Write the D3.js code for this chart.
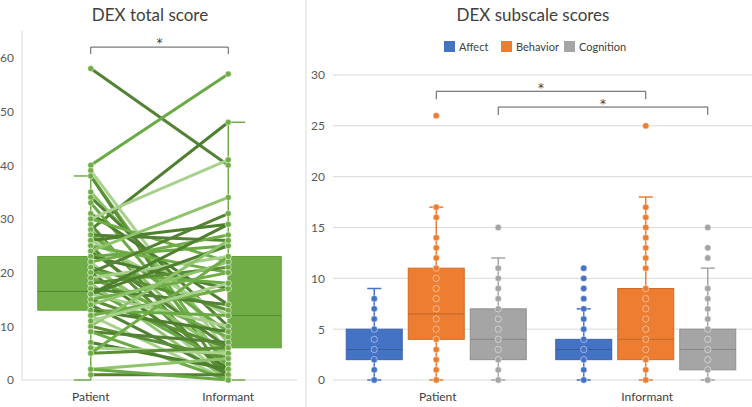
<!DOCTYPE html>
<html><head><meta charset="utf-8">
<script src="https://cdn.jsdelivr.net/npm/d3@7"></script>
<style>body{margin:0;background:#fff;} svg{display:block;font-family:Lato,"Open Sans",sans-serif;}</style>
</head><body><svg id="c" width="752" height="407"></svg>
<script>
// ---------- DATA ----------
const totalTitle = "DEX total score";
const totalCategories = ["Patient", "Informant"];
const totalTicks = [0, 10, 20, 30, 40, 50, 60];
const patientTotal = [58,40,28,39,38,38,35,34,33,31,30,30,29,28,27,27,26,26,25,25,24,24,23,23,22,22,21,21,20,20,20,19,19,18,18,17,17,16,16,15,15,14,14,13,13,12,12,10,10,9,9,7,6,5,5,2,1,2,16,11];
const informantTotal = [40,57,48,5,2,0,7,10,3,14,41,22,0,4,26,9,29,12,20,1,34,6,25,17,0,27,13,5,31,18,2,23,8,21,0,14,3,25,10,20,6,22,1,12,9,0,17,4,26,7,0,2,5,23,6,4,1,0,29,18];
const totalQ1 = [13, 6];
const totalMedian = [16.5, 12];
const totalQ3 = [23, 23];
const totalMin = [0, 0];
const totalMax = [38, 48];
const totalSignificance = ["*"];

const subTitle = "DEX subscale scores";
const subCategories = ["Patient", "Informant"];
const subSeries = ["Affect", "Behavior", "Cognition"];
const subTicks = [0, 5, 10, 15, 20, 25, 30];
const affectQ1 = [2, 2], affectMedian = [3, 3], affectQ3 = [5, 4], affectMin = [0, 0], affectMax = [9, 7];
const behaviorQ1 = [4, 2], behaviorMedian = [6.5, 4], behaviorQ3 = [11, 9], behaviorMin = [0, 0], behaviorMax = [17, 18];
const cognitionQ1 = [2, 1], cognitionMedian = [4, 3], cognitionQ3 = [7, 5], cognitionMin = [0, 0], cognitionMax = [12, 11];
const affectPatientPoints = [0,1,2,3,4,5,6,7,8];
const affectInformantPoints = [0,1,2,3,4,5,6,7,8,9,10,11];
const behaviorPatientPoints = [0,1,2,3,4,5,6,7,8,9,10,11,12,13,14,16,17,26];
const behaviorInformantPoints = [0,1,2,3,4,5,6,7,8,9,11,12,13,14,15,16,17,25];
const cognitionPatientPoints = [0,1,2,3,4,5,6,7,8,9,10,11,15];
const cognitionInformantPoints = [0,1,2,3,4,5,6,7,8,9,12,13,15];
const subSignificance = ["*", "*"];

// ---------- STYLE ----------
const greens = ["#548235", "#6aaa44", "#4e7f2e", "#a9d18e", "#70ad47", "#5b8f36", "#8fc46c"];
const boxGreen = "#70ad47";
const seriesColors = {Affect: "#4472c4", Behavior: "#ed7d31", Cognition: "#a5a5a5"};
const gridColor = "#d9d9d9";
const textColor = "#595959";
const starFont = "DejaVu Sans";

const svg = d3.select("#c");

// ---------- LEFT PANEL ----------
const yL = d3.scaleLinear().domain([0, 65]).range([380, 31]);
const xL = d3.scaleBand().domain(totalCategories).range([22, 297]);
const cxL = c => xL(c) + xL.bandwidth() / 2;
const L = svg.append("g");

L.append("text").attr("x", 150).attr("y", 21).attr("text-anchor", "middle")
  .attr("font-size", 17).attr("fill", "#404040").text(totalTitle);

L.append("line").attr("x1", 22).attr("x2", 22).attr("y1", yL(65)).attr("y2", yL(0)).attr("stroke", gridColor);
L.append("line").attr("x1", 22).attr("x2", 297).attr("y1", yL(0)).attr("y2", yL(0)).attr("stroke", gridColor);

const axL = L.append("g").attr("transform", "translate(14,0)")
  .call(d3.axisLeft(yL).tickValues(totalTicks).tickSize(0).tickPadding(0));
axL.select(".domain").remove();
axL.selectAll("text").attr("font-size", 12).attr("fill", textColor).attr("font-family", "Lato");

const axLB = L.append("g").attr("transform", "translate(0,380)")
  .call(d3.axisBottom(xL).tickSize(0).tickPadding(12));
axLB.select(".domain").remove();
axLB.selectAll("text").attr("font-size", 12).attr("fill", "#404040").attr("font-family", "Lato");

// boxes
totalCategories.forEach((c, i) => {
  const cx = cxL(c), side = i === 0 ? -1 : 1, bw = 53;
  L.append("rect").attr("x", side < 0 ? cx - bw : cx).attr("width", bw)
    .attr("y", yL(totalQ3[i])).attr("height", yL(totalQ1[i]) - yL(totalQ3[i]))
    .attr("fill", boxGreen).attr("stroke", "#62a03c");
  L.append("line").attr("x1", cx).attr("x2", cx + side * bw)
    .attr("y1", yL(totalMedian[i])).attr("y2", yL(totalMedian[i])).attr("stroke", "#4f8a2c");
  L.append("line").attr("x1", cx).attr("x2", cx).attr("y1", yL(totalMin[i])).attr("y2", yL(totalMax[i]))
    .attr("stroke", boxGreen).attr("stroke-width", 1.5);
  [totalMin[i], totalMax[i]].forEach(v => L.append("line").attr("x1", cx).attr("x2", cx + side * 17)
    .attr("y1", yL(v)).attr("y2", yL(v)).attr("stroke", boxGreen).attr("stroke-width", 1.5));
});

// paired lines
const xP = cxL("Patient"), xI = cxL("Informant");
L.append("g").selectAll("line").data(patientTotal).join("line")
  .attr("x1", xP).attr("x2", xI)
  .attr("y1", d => yL(d)).attr("y2", (d, i) => yL(informantTotal[i]))
  .attr("stroke", (d, i) => greens[i % greens.length]).attr("stroke-width", 3);

// dots
[[xP, patientTotal], [xI, informantTotal]].forEach(([x, vals]) => {
  L.append("g").selectAll("circle").data(vals).join("circle")
    .attr("cx", x).attr("cy", d => yL(d)).attr("r", 3)
    .attr("fill", boxGreen).attr("stroke", "rgba(255,255,255,0.45)").attr("stroke-width", 1);
});

// significance bracket
L.append("path").attr("d", `M${xP},${yL(60.7)}V${yL(62)}H${xI}V${yL(60.7)}`)
  .attr("fill", "none").attr("stroke", "#595959").attr("stroke-width", 1);
L.append("text").attr("x", (xP + xI) / 2).attr("y", yL(62)).attr("text-anchor", "middle")
  .attr("font-size", 12).attr("font-family", starFont).attr("fill", "#404040").text(totalSignificance[0]);

// ---------- RIGHT PANEL ----------
svg.append("line").attr("x1", 306).attr("x2", 306).attr("y1", 0).attr("y2", 407).attr("stroke", gridColor);
const R = svg.append("g");
const yR = d3.scaleLinear().domain([0, 30]).range([380, 75]);
const xR = d3.scaleBand().domain(subCategories).range([333, 752]);
const xS = d3.scaleBand().domain(subSeries).range([-1.5, xR.bandwidth() - 1.5]).paddingInner(0.097).paddingOuter(0.238);

R.append("text").attr("x", 533).attr("y", 21).attr("text-anchor", "middle")
  .attr("font-size", 17).attr("fill", "#404040").text(subTitle);

R.append("g").selectAll("line").data(subTicks).join("line")
  .attr("x1", 333).attr("x2", 752).attr("y1", d => yR(d)).attr("y2", d => yR(d)).attr("stroke", gridColor);

const axR = R.append("g").attr("transform", "translate(325,0)")
  .call(d3.axisLeft(yR).tickValues(subTicks).tickSize(0).tickPadding(0));
axR.select(".domain").remove();
axR.selectAll("text").attr("font-size", 12).attr("fill", textColor).attr("font-family", "Lato");

const axRB = R.append("g").attr("transform", "translate(0,380)")
  .call(d3.axisBottom(xR).tickSize(0).tickPadding(12));
axRB.select(".domain").remove();
axRB.selectAll("text").attr("font-size", 12).attr("fill", "#404040").attr("font-family", "Lato");

const stats = {
  Affect: {q1: affectQ1, med: affectMedian, q3: affectQ3, min: affectMin, max: affectMax, pts: [affectPatientPoints, affectInformantPoints]},
  Behavior: {q1: behaviorQ1, med: behaviorMedian, q3: behaviorQ3, min: behaviorMin, max: behaviorMax, pts: [behaviorPatientPoints, behaviorInformantPoints]},
  Cognition: {q1: cognitionQ1, med: cognitionMedian, q3: cognitionQ3, min: cognitionMin, max: cognitionMax, pts: [cognitionPatientPoints, cognitionInformantPoints]}
};
const cxS = (c, s) => xR(c) + xS(s) + xS.bandwidth() / 2;

subCategories.forEach((c, i) => {
  subSeries.forEach(s => {
    const st = stats[s], col = seriesColors[s], cx = cxS(c, s), bw = xS.bandwidth();
    const g = R.append("g");
    g.append("line").attr("x1", cx).attr("x2", cx).attr("y1", yR(st.min[i])).attr("y2", yR(st.max[i]))
      .attr("stroke", col).attr("stroke-width", 1.5);
    [st.min[i], st.max[i]].forEach(v => g.append("line").attr("x1", cx - 7).attr("x2", cx + 7)
      .attr("y1", yR(v)).attr("y2", yR(v)).attr("stroke", col).attr("stroke-width", 1.5));
    g.append("rect").attr("x", cx - bw / 2).attr("width", bw)
      .attr("y", yR(st.q3[i])).attr("height", yR(st.q1[i]) - yR(st.q3[i]))
      .attr("fill", col).attr("stroke", d3.color(col).darker(0.4)).attr("stroke-width", 1);
    g.append("line").attr("x1", cx - bw / 2).attr("x2", cx + bw / 2)
      .attr("y1", yR(st.med[i])).attr("y2", yR(st.med[i])).attr("stroke", d3.color(col).darker(0.6));
    g.selectAll("circle").data(st.pts[i]).join("circle")
      .attr("cx", cx).attr("cy", d => yR(d)).attr("r", 3.2)
      .attr("fill", col).attr("stroke", "rgba(255,255,255,0.45)").attr("stroke-width", 1);
  });
});

// significance brackets
const brackets = [["Behavior", 28.4], ["Cognition", 26.85]];
brackets.forEach(([s, lvl], k) => {
  const x1 = cxS("Patient", s), x2 = cxS("Informant", s), y = yR(lvl);
  R.append("path").attr("d", `M${x1},${y + 8}V${y}H${x2}V${y + 8}`)
    .attr("fill", "none").attr("stroke", "#595959").attr("stroke-width", 1);
  R.append("text").attr("x", (x1 + x2) / 2).attr("y", y + 1).attr("text-anchor", "middle")
    .attr("font-size", 12).attr("font-family", starFont).attr("fill", "#404040").text(subSignificance[k]);
});

// legend
const legX = [444, 501, 564];
subSeries.forEach((s, k) => {
  const g = R.append("g").attr("transform", `translate(${legX[k]},41)`);
  g.append("rect").attr("width", 11).attr("height", 11).attr("fill", seriesColors[s]);
  g.append("text").attr("x", 15).attr("y", 10).attr("font-size", 11).attr("fill", "#404040").text(s);
});
</script></body></html>
